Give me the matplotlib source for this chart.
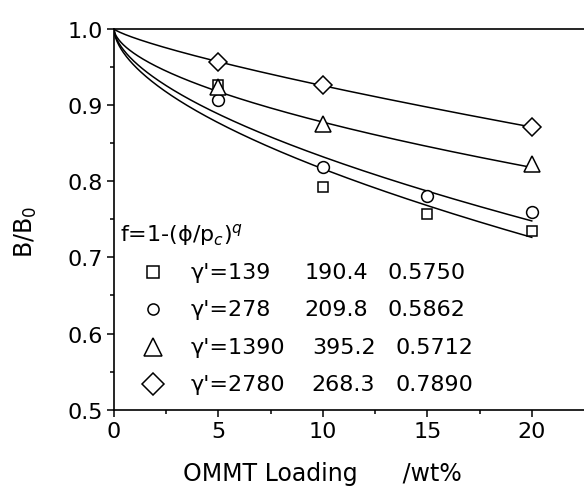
import numpy as np
import matplotlib
matplotlib.use('Agg')
import matplotlib.pyplot as plt

plt.rcParams['font.family'] = ['DejaVu Sans']
plt.rcParams['mathtext.fontset'] = 'dejavusans'

# measured points (B/B0 vs OMMT loading, wt%)
x_sq = [5, 10, 15, 20]
y_sq = [0.926, 0.792, 0.757, 0.734]
x_ci = [5, 10, 15, 20]
y_ci = [0.907, 0.819, 0.781, 0.759]
x_tr = [5, 10, 20]
y_tr = [0.924, 0.875, 0.822]
x_di = [5, 10, 20]
y_di = [0.957, 0.926, 0.871]

# fit parameters f = 1-(phi/pc)^q
gammas = ['139', '278', '1390', '2780']
pc = [190.4, 209.8, 395.2, 268.3]
q = [0.5750, 0.5862, 0.5712, 0.7890]
markers = ['s', 'o', '^', 'D']

fig = plt.figure(figsize=(5.84, 4.89), dpi=100)
ax = fig.add_axes([0.195, 0.16, 0.805, 0.779])

phi = np.linspace(0, 20, 400)
for p, e in zip(pc, q):
    ax.plot(phi, 1 - (phi / p) ** e, color='k', lw=1.1)

ax.plot(x_sq, y_sq, 's', ms=7.5, mfc='white', mec='k', mew=1.1)
ax.plot(x_ci, y_ci, 'o', ms=8.5, mfc='white', mec='k', mew=1.1)
ax.plot(x_tr, y_tr, '^', ms=11, mfc='white', mec='k', mew=1.1)
ax.plot(x_di, y_di, 'D', ms=9.5, mfc='white', mec='k', mew=1.1)

ax.set_xlim(0, 22.5)
ax.set_ylim(0.5, 1.0)
ax.set_xticks([0, 5, 10, 15, 20])
ax.set_xticks(np.arange(2.5, 22.5, 5), minor=True)
ax.set_yticks([0.5, 0.6, 0.7, 0.8, 0.9, 1.0])
ax.set_yticks(np.arange(0.55, 1.0, 0.1), minor=True)
ax.tick_params(direction='out', length=5, width=1.1, labelsize=16, pad=3)
ax.tick_params(which='minor', direction='out', length=3, width=1.1)
ax.spines['right'].set_visible(False)
for s in ['left', 'bottom', 'top']:
    ax.spines[s].set_linewidth(1.2)

ax.set_xlabel('OMMT Loading      /wt%', fontsize=17)
ax.xaxis.set_label_coords(0.443, -0.135)
ax.set_ylabel('B/B$_0$', fontsize=17)
ax.yaxis.set_label_coords(-0.16, 0.47)

# legend drawn by hand to keep the columns aligned
ax.text(0.013, 0.462, 'f=1-(ϕ/p$_c$)$^q$', transform=ax.transAxes, fontsize=16, va='center')
row_y = [0.362, 0.265, 0.165, 0.068]
msz = {'s': 8, 'o': 8, '^': 13, 'D': 11}
for ry, g, p, e, m in zip(row_y, gammas, pc, q, markers):
    ax.plot([0.083], [ry], m, ms=msz[m], mfc='white', mec='k', mew=1.1,
            transform=ax.transAxes, clip_on=False)
    ax.text(0.164, ry, "γ'=" + g, transform=ax.transAxes, fontsize=16, va='center')
    ax.text(0.406 if len(g) == 3 else 0.421, ry, '%.1f' % p, transform=ax.transAxes, fontsize=16, va='center')
    ax.text(0.583 if len(g) == 3 else 0.598, ry, '%.4f' % e, transform=ax.transAxes, fontsize=16, va='center')

fig.savefig('out.png', dpi=100)
